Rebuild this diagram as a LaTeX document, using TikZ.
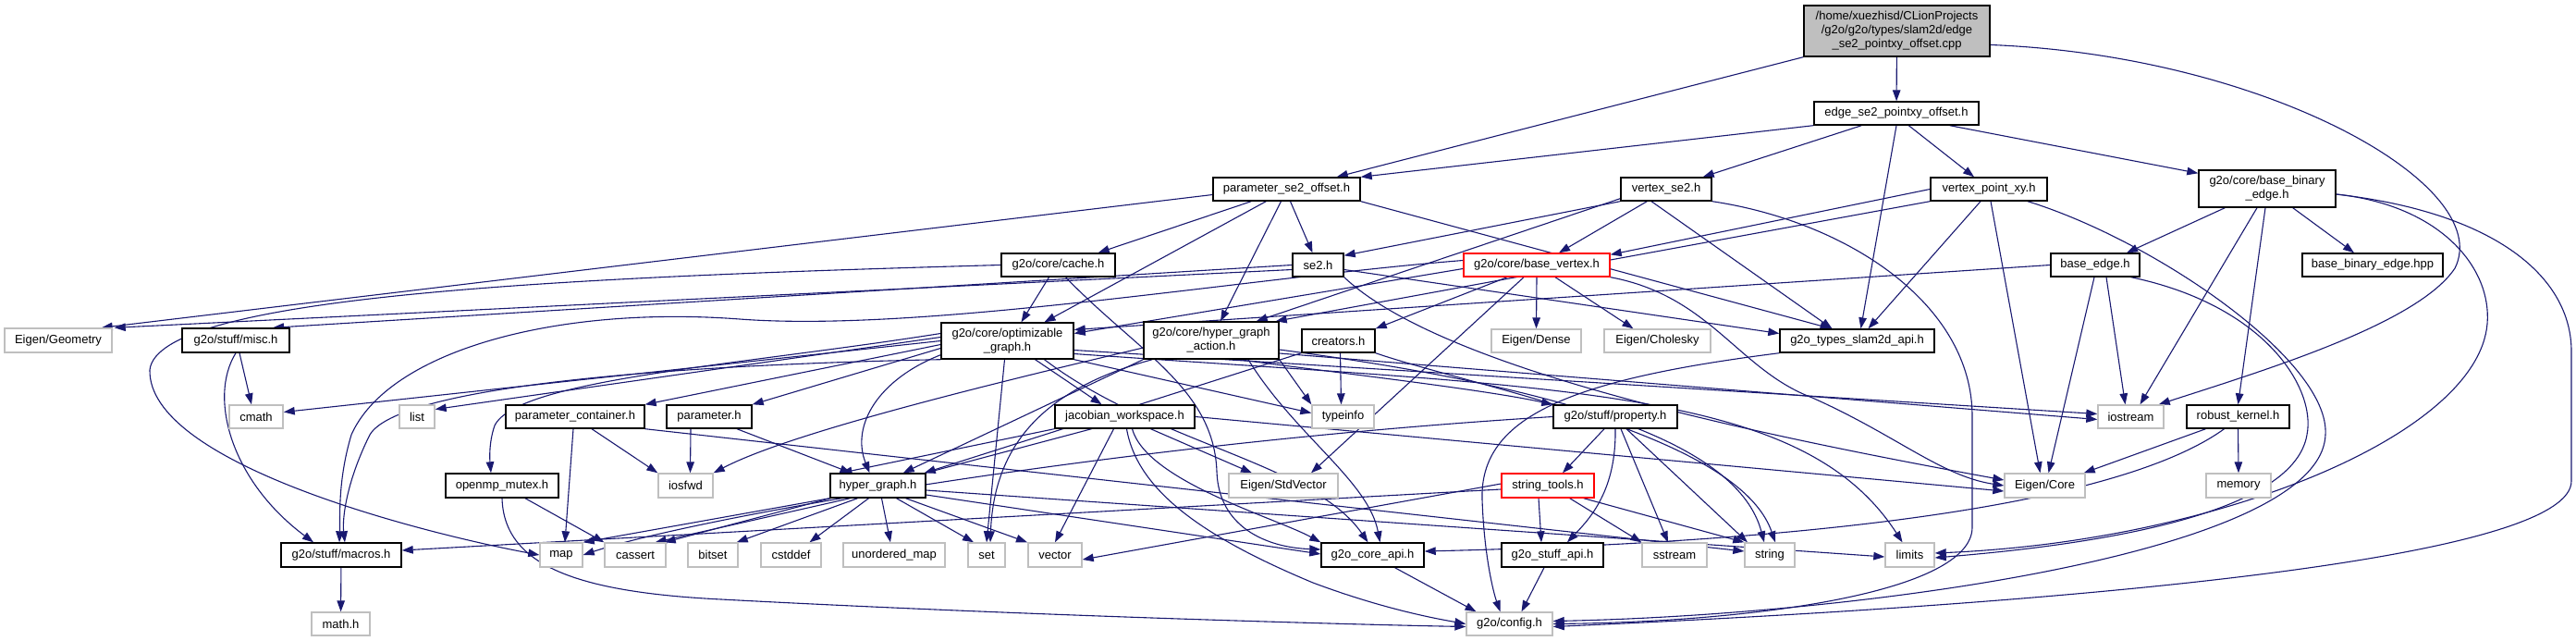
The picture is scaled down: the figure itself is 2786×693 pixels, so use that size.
\documentclass[tikz,border=0pt]{standalone}
\usepackage{fontspec}
\setmainfont{Liberation Sans}
\usetikzlibrary{arrows.meta,backgrounds}
\definecolor{edgec}{HTML}{191970}
\definecolor{graybd}{HTML}{BFBFBF}
\newcommand\nd[7]{\node[#1,minimum width=#5pt,minimum height=#6pt] (#2) at (#3,#4) {#7};}
\begin{document}
\begin{tikzpicture}[x=1pt,y=-1pt,
  box/.style={draw=black, line width=1.4pt, fill=white, inner sep=0pt, align=center, font=\fontsize{13}{15}\selectfont},
  sys/.style={box, draw=graybd},
  trunc/.style={box, draw=red},
  rootbox/.style={box, fill=graybd},
  e/.style={draw=edgec, line width=1.1pt, -{Triangle[length=12pt,width=8.5pt]}}]
\useasboundingbox (0,0) rectangle (2786,693);
% nodes
\nd{rootbox}{root}{2051.5}{33.5}{201}{55}{/home/xuezhisd/CLionProjects\\/g2o/g2o/types/slam2d/edge\\\_se2\_pointxy\_offset.cpp}
\nd{box}{eh}{2051}{122.5}{178}{25}{edge\_se2\_pointxy\_offset.h}
\nd{box}{pso}{1391.5}{204.5}{159}{25}{parameter\_se2\_offset.h}
\nd{box}{vse}{1802}{204.5}{98}{25}{vertex\_se2.h}
\nd{box}{vpx}{2151}{204.5}{126}{25}{vertex\_point\_xy.h}
\nd{box}{bbe}{2452}{204}{148}{40}{g2o/core/base\_binary\\\_edge.h}
\nd{box}{cache}{1144.5}{286.5}{123}{25}{g2o/core/cache.h}
\nd{box}{se2}{1425.5}{286.5}{55}{25}{se2.h}
\nd{trunc}{bv}{1662}{286.5}{158}{25}{g2o/core/base\_vertex.h}
\nd{box}{be}{2266}{286.5}{96}{25}{base\_edge.h}
\nd{box}{bbehpp}{2566}{286.5}{152}{25}{base\_binary\_edge.hpp}
\nd{sys}{egeo}{63}{368}{116}{26}{Eigen/Geometry}
\nd{box}{misc}{255}{368}{116}{26}{g2o/stuff/misc.h}
\nd{box}{og}{1089.5}{368.5}{143}{39}{g2o/core/optimizable\\\_graph.h}
\nd{box}{hga}{1310}{368}{146}{40}{g2o/core/hyper\_graph\\\_action.h}
\nd{box}{cre}{1447.5}{368.5}{79}{25}{creators.h}
\nd{sys}{eden}{1661.5}{368.5}{97}{25}{Eigen/Dense}
\nd{sys}{echo}{1792.5}{368.5}{115}{25}{Eigen/Cholesky}
\nd{box}{slam}{2008.5}{368.5}{167}{25}{g2o\_types\_slam2d\_api.h}
\nd{sys}{cmath}{277}{450.5}{58}{25}{cmath}
\nd{sys}{list}{451}{450.5}{38}{25}{list}
\nd{box}{pc}{622}{450.5}{150}{25}{parameter\_container.h}
\nd{box}{par}{767}{450.5}{92}{25}{parameter.h}
\nd{box}{jw}{1216.5}{450.5}{151}{25}{jacobian\_workspace.h}
\nd{sys}{tinfo}{1452.5}{450.5}{67}{25}{typeinfo}
\nd{box}{prop}{1747}{450.5}{134}{25}{g2o/stuff/property.h}
\nd{sys}{ios}{2304.5}{450.5}{71}{25}{iostream}
\nd{box}{rk}{2420.5}{450.5}{111}{25}{robust\_kernel.h}
\nd{box}{omp}{543}{525}{122}{26}{openmp\_mutex.h}
\nd{sys}{iosfwd}{741.5}{525}{59}{26}{iosfwd}
\nd{box}{hg}{949.5}{525}{103}{26}{hyper\_graph.h}
\nd{sys}{estd}{1388}{525}{118}{26}{Eigen/StdVector}
\nd{trunc}{st}{1674}{525}{100}{26}{string\_tools.h}
\nd{sys}{ecore}{2211.5}{525}{87}{26}{Eigen/Core}
\nd{sys}{mem}{2421}{525}{70}{26}{memory}
\nd{box}{mac}{369}{600}{130}{26}{g2o/stuff/macros.h}
\nd{sys}{map}{607}{600}{46}{26}{map}
\nd{sys}{cass}{687}{600}{66}{26}{cassert}
\nd{sys}{bits}{771}{600}{54}{26}{bitset}
\nd{sys}{cstd}{855.5}{600}{65}{26}{cstddef}
\nd{sys}{umap}{967}{600}{110}{26}{unordered\_map}
\nd{sys}{set}{1067}{600}{40}{26}{set}
\nd{sys}{vec}{1141}{600}{58}{26}{vector}
\nd{box}{capi}{1484.5}{600}{111}{26}{g2o\_core\_api.h}
\nd{box}{sapi}{1679}{600}{110}{26}{g2o\_stuff\_api.h}
\nd{sys}{sstr}{1811}{600}{70}{26}{sstream}
\nd{sys}{str}{1914}{600}{54}{26}{string}
\nd{sys}{lim}{2065.5}{600}{53}{26}{limits}
\nd{sys}{math}{368.5}{674.5}{63}{25}{math.h}
\nd{sys}{cfg}{1632.5}{674.5}{93}{25}{g2o/config.h}
\begin{pgfonlayer}{background}
% root
\draw[e] (root) -- (eh);
\draw[e] (root.south west) -- ([xshift=-26pt]pso.north east);
\draw[e] ([yshift=-15pt]root.east) .. controls (2450,60) and (2700,200) .. (2655,290) .. controls (2615,350) and (2450,400) .. ([xshift=-6pt]ios.north east);
% edge_se2_pointxy_offset.h
\draw[e] (eh.south west) -- (pso.north east);
\draw[e] ([xshift=52pt]eh.south west) -- ([xshift=-10pt]vse.north east);
\draw[e] ([xshift=103pt]eh.south west) -- ([xshift=-16pt]vpx.north);
\draw[e] ([xshift=-32pt]eh.south east) -- ([yshift=-4pt]bbe.north west);
\draw[e] (eh.south) -- ([xshift=4pt]slam.north);
% parameter_se2_offset.h
\draw[e] ([yshift=-6pt]pso.west) -- ([xshift=-12pt]egeo.north east);
\draw[e] ([xshift=42pt]pso.south west) -- ([xshift=-19pt]cache.north east);
\draw[e] ([xshift=58pt]pso.south west) -- ([xshift=40pt]og.north);
\draw[e] ([xshift=-6pt]pso.south) -- ([xshift=10pt]hga.north);
\draw[e] ([xshift=4pt]pso.south) -- ([xshift=-6pt]se2.north);
\draw[e] (pso.south east) -- ([xshift=-28pt]slam.north);
% vertex_se2.h
\draw[e] (vse.south west) -- ([yshift=-3pt]se2.north east);
\draw[e] ([xshift=29pt]vse.south west) -- ([xshift=24pt]bv.north);
\draw[e] ([yshift=3pt]vse.south west) -- ([xshift=-25pt]hga.north east);
\draw[e] ([xshift=-16pt]vse.south) -- ([xshift=-27pt]slam.north);
\draw[e] (vse.south east) .. controls (2000,240) and (2133,330) .. (2133,450) -- (2133,570) .. controls (2133,640) and (1900,672) .. (cfg.east);
% vertex_point_xy.h
\draw[e] (vpx.west) -- ([yshift=-2pt]bv.north east);
\draw[e] (vpx.south west) -- ([xshift=-4pt]hga.north east);
\draw[e] ([xshift=-9pt]vpx.south) -- ([xshift=12pt]slam.north);
\draw[e] ([xshift=2pt]vpx.south) -- ([xshift=-5pt]ecore.north);
\draw[e] ([xshift=42pt]vpx.south) .. controls (2330,260) and (2520,390) .. (2515,470) .. controls (2510,600) and (2000,665) .. ([yshift=3pt]cfg.east);
% base_binary_edge.h
\draw[e] ([xshift=29pt]bbe.south west) -- ([xshift=34pt]be.north);
\draw[e] ([xshift=-47pt]bbe.south east) -- ([xshift=-20pt]bbehpp.north);
\draw[e] ([xshift=-2pt]bbe.south) -- (rk.north);
\draw[e] ([xshift=-11pt]bbe.south) -- ([xshift=10pt]ios.north);
\draw[e] ([yshift=-6pt]bbe.east) .. controls (2640,222) and (2695,290) .. (2690,350) .. controls (2680,470) and (2400,585) .. ([yshift=2pt]lim.east);
\draw[e] ([yshift=-6pt]bbe.east) .. controls (2700,230) and (2781,300) .. (2781,380) -- (2781,520) .. controls (2781,600) and (2300,650) .. ([yshift=-3pt]cfg.east);
% base_edge.h
\draw[e] (be.west) -- ([yshift=12pt]og.east);
\draw[e] ([xshift=12pt]be.south) -- ([xshift=-6pt]ios.north);
\draw[e] ([xshift=-1pt]be.south) -- ([xshift=4pt]ecore.north);
\draw[e] ([xshift=-10pt]be.south east) .. controls (2450,330) and (2505,420) .. (2495,470) .. controls (2480,560) and (2250,590) .. ([yshift=-3pt]lim.east);
% cache.h
\draw[e] ([xshift=-10pt]cache.south) -- ([xshift=15pt]og.north);
\draw[e] (cache.west) .. controls (600,300) and (170,320) .. (162,400) .. controls (160,500) and (450,575) .. (map.west);
\draw[e] ([xshift=8pt]cache.south) .. controls (1230,380) and (1313,420) .. (1316,510) .. controls (1318,570) and (1370,592) .. ([yshift=6pt]capi.west);
% se2.h
\draw[e] (se2.west) -- ([xshift=40pt]misc.north);
\draw[e] ([yshift=-5pt]se2.west) -- ([xshift=2pt]egeo.north east);
\draw[e] ([yshift=-5pt]se2.east) -- ([yshift=8pt]slam.west);
\draw[e] (se2.south east) .. controls (1560,400) and (1900,470) .. ([yshift=6pt]ecore.west);
% base_vertex.h
\draw[e] ([yshift=-4pt]bv.west) -- ([yshift=8pt]og.east);
\draw[e] ([xshift=-32pt]bv.south) -- (cre.north east);
\draw[e] (bv.south) -- (eden.north);
\draw[e] ([xshift=20pt]bv.south) -- ([xshift=-26pt]echo.north);
\draw[e] ([xshift=-14pt]bv.south) -- ([xshift=30pt]estd.north);
\draw[e] (bv.south east) .. controls (1850,320) and (1880,400) .. (1960,430) .. controls (2050,470) and (2100,515) .. (ecore.west);
\draw[e] ([yshift=5pt]bv.west) .. controls (1350,300) and (1000,360) .. (800,345) .. controls (600,330) and (420,380) .. (380,470) .. controls (365,520) and (368,560) .. ([xshift=-2pt]mac.north);
% optimizable_graph.h
\draw[e] (og.west) -- ([yshift=5pt]cmath.east);
\draw[e] ([yshift=4pt]og.west) -- ([yshift=8pt]list.east);
\draw[e] ([yshift=-4pt]og.west) -- (pc.north east);
\draw[e] ([yshift=-8pt]og.west) -- (par.north east);
\draw[e] ([yshift=8pt]og.west) .. controls (800,395) and (560,410) .. (535,460) .. controls (528,480) and (530,500) .. ([xshift=-12pt]omp.north);
\draw[e] (og.south west) .. controls (700,395) and (430,420) .. (400,470) .. controls (375,520) and (370,560) .. ([xshift=4pt]mac.north);
\draw[e] ([yshift=5pt]og.south west) .. controls (950,410) and (920,460) .. ([xshift=-9pt]hg.north);
\draw[e] ([xshift=-3pt]og.south) -- (set.north);
\draw[e] ([xshift=30pt]og.south) -- ([xshift=-25pt]jw.north);
\draw[e] (og.south east) -- ([yshift=4pt]tinfo.west);
\draw[e] ([yshift=-10pt]og.east) -- ([yshift=3pt]ios.west);
\draw[e] ([yshift=-14pt]og.east) .. controls (1700,420) and (1950,420) .. ([xshift=-8pt]lim.north);
\draw[e] ([xshift=40pt]og.south) .. controls (1250,480) and (1420,500) .. ([xshift=-5pt]capi.north);
% hyper_graph_action.h
\draw[e] (hga.south west) -- ([xshift=-25pt]hg.north east);
\draw[e] ([yshift=-8pt]hga.west) .. controls (1050,420) and (850,470) .. (iosfwd.north east);
\draw[e] ([xshift=10pt]hga.south west) .. controls (1130,420) and (1075,480) .. ([xshift=4pt]set.north);
\draw[e] ([xshift=30pt]hga.south) .. controls (1420,400) and (1600,420) .. (prop.north west);
\draw[e] (hga.south east) -- (tinfo.north west);
\draw[e] ([yshift=-14pt]hga.east) -- ([yshift=-3pt]ios.west);
\draw[e] ([yshift=-10pt]hga.east) .. controls (1700,420) and (1880,480) .. ([xshift=-6pt]str.north);
\draw[e] ([xshift=40pt]hga.south) .. controls (1400,470) and (1480,520) .. ([xshift=8pt]capi.north);
% creators.h
\draw[e] ([xshift=2pt]cre.south) -- ([xshift=-2pt]tinfo.north);
\draw[e] (cre.south west) -- ([xshift=-2pt]hg.north east);
\draw[e] (cre.south east) .. controls (1600,420) and (1880,470) .. ([xshift=6pt]str.north);
% jacobian_workspace.h
\draw[e] (jw.south west) -- ([xshift=-40pt]hg.north);
\draw[e] ([xshift=-36pt]jw.south) -- ([xshift=-2pt]cass.north east);
\draw[e] ([xshift=-12pt]jw.south) -- (vec.north);
\draw[e] ([xshift=28pt]jw.south) -- ([xshift=-34pt]estd.north);
\draw[e] (jw.east) -- ([yshift=-6pt]ecore.west);
\draw[e] ([xshift=2pt]jw.south) .. controls (1230,530) and (1300,580) .. (1420,630) .. controls (1500,660) and (1560,670) .. (cfg.west);
\draw[e] ([xshift=8pt]jw.south) .. controls (1240,520) and (1380,560) .. (capi.north west);
% hyper_graph.h
\draw[e] (hg.south west) -- (map.north east);
\draw[e] ([xshift=-30pt]hg.south) -- ([xshift=-12pt]cass.north east);
\draw[e] ([xshift=-22pt]hg.south) -- ([xshift=-2pt]bits.north east);
\draw[e] ([xshift=-10pt]hg.south) -- ([xshift=20pt]cstd.north);
\draw[e] ([xshift=4pt]hg.south) -- ([xshift=-4pt]umap.north);
\draw[e] ([xshift=20pt]hg.south) -- ([xshift=-14pt]set.north);
\draw[e] ([xshift=30pt]hg.south) -- ([xshift=-30pt]vec.north);
\draw[e] ([yshift=-5pt]hg.east) -- ([yshift=-2pt]lim.west);
\draw[e] ([yshift=-10pt]hg.east) -- ([yshift=1pt]capi.west);
% parameter.h, parameter_container.h, openmp_mutex.h, misc.h, macros.h
\draw[e] ([xshift=-20pt]par.south) -- ([xshift=5pt]iosfwd.north);
\draw[e] ([xshift=30pt]par.south) -- ([xshift=-29pt]hg.north);
\draw[e] ([xshift=-2pt]pc.south) -- ([xshift=4pt]map.north);
\draw[e] ([xshift=18pt]pc.south) -- (iosfwd.north west);
\draw[e] (pc.south east) -- ([yshift=4pt]str.west);
\draw[e] ([xshift=25pt]omp.south) -- (cass.north west);
\draw[e] (omp.south) .. controls (545,610) and (620,640) .. (780,648) .. controls (1100,665) and (1450,675) .. ([yshift=-3pt]cfg.west);
\draw[e] (misc.south) .. controls (225,430) and (250,520) .. ([xshift=-30pt]mac.north);
\draw[e] ([xshift=4pt]misc.south) -- ([xshift=-5pt]cmath.north);
\draw[e] (mac) -- (math);
% property.h, string_tools.h
\draw[e] ([xshift=-12pt]prop.south) -- ([xshift=16pt]st.north);
\draw[e] (prop.south) .. controls (1748,530) and (1720,560) .. ([xshift=16pt]sapi.north);
\draw[e] ([xshift=6pt]prop.south) -- ([xshift=-7pt]sstr.north);
\draw[e] ([xshift=12pt]prop.south) -- ([xshift=-24pt]str.north);
\draw[e] (prop.west) .. controls (1200,480) and (750,560) .. (map.east);
\draw[e] ([xshift=-10pt]st.south) -- ([xshift=-12pt]sapi.north);
\draw[e] ([xshift=-27pt]st.south east) -- (sstr.north west);
\draw[e] ([xshift=-12pt]st.south east) -- (str.north west);
\draw[e] ([yshift=2pt]st.west) -- ([yshift=-5pt]vec.east);
\draw[e] ([yshift=-4pt]st.west) -- ([yshift=5pt]mac.east);
% api headers
\draw[e] ([xshift=24pt]capi.south) -- ([xshift=-36pt]cfg.north);
\draw[e] ([xshift=-9pt]sapi.south) -- ([xshift=13pt]cfg.north);
\draw[e] (slam.south west) .. controls (1700,410) and (1600,450) .. (1603,540) .. controls (1605,600) and (1615,640) .. ([xshift=-10pt]cfg.north);
% robust_kernel.h
\draw[e] ([xshift=-35pt]rk.south) -- ([xshift=-2pt]ecore.north east);
\draw[e] (rk.south) -- (mem.north);
\draw[e] ([xshift=-15pt]rk.south) .. controls (2300,540) and (2000,585) .. ([yshift=4pt]capi.east);
\end{pgfonlayer}
\end{tikzpicture}
\end{document}
